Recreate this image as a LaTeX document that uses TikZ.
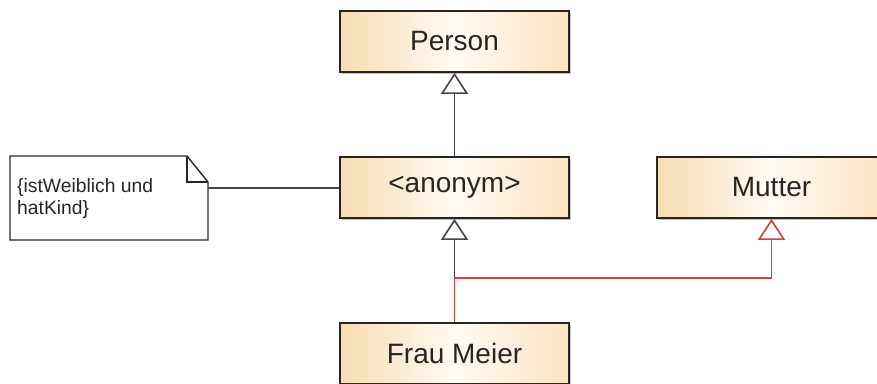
\documentclass[tikz,border=0pt]{standalone}
\usepackage{fontspec}
\setmainfont{Liberation Sans}
\usetikzlibrary{arrows.meta,shadows}
\definecolor{boxleft}{HTML}{F6DDB2}
\definecolor{boxmid}{HTML}{FFFAF3}
\definecolor{boxright}{HTML}{FBE4C2}
\definecolor{inkgray}{HTML}{262626}
\definecolor{linegray}{HTML}{444444}
\definecolor{relred}{HTML}{E03A3A}
\tikzset{
  classbox/.style={draw=inkgray, line width=1.8pt, minimum width=229pt, minimum height=61pt,
    inner sep=0pt, left color=boxleft, right color=boxright, middle color=boxmid,
    text=inkgray, font=\fontsize{28}{32}\selectfont,
    drop shadow={shadow xshift=1.5pt, shadow yshift=-1.5pt, fill=black, opacity=0.25}},
  notebox/.style={draw=inkgray, line width=1.4pt, fill=white},
  notetext/.style={text=inkgray, font=\fontsize{19.3}{22}\selectfont, align=left, anchor=west, inner sep=0pt},
  genline/.style={draw=linegray, line width=1.6pt},
  genred/.style={draw=relred, line width=1.6pt},
  gentip/.style={-{Triangle[open, length=21pt, width=27pt, fill=white]}},
}
\begin{document}
\begin{tikzpicture}[x=1pt, y=-1pt]
  \useasboundingbox (0,0) rectangle (877,383);
  \clip (0,0) rectangle (877,383);

  % classes
  \node[classbox] (person) at (454.5, 41.5) {Person};
  \node[classbox] (anon)   at (454.5, 187.5) {<anonym>};
  \node[classbox] (mutter) at (771.5, 187.5) {Mutter};
  \node[classbox] (frau)   at (454.5, 353.5) {Frau Meier};

  % constraint note with folded corner
  \draw[notebox] (10,156) -- (187,156) -- (208,182) -- (208,240) -- (10,240) -- cycle;
  \draw[notebox, fill=none] (187,156) -- (187,182) -- (208,182);
  \coordinate (noteport) at (208,188);
  \node[notetext] (notetxt) at (17,199) {\{istWeiblich und\\hatKind\}};

  % note attached to the anonymous class
  \draw[genline] (noteport) -- (anon.west |- noteport);

  % generalisations
  \coordinate (split) at (454.5,278);
  \draw[genline, gentip] (anon.north) -- (person.south);
  \draw[genline, gentip] (split) -- (anon.south);
  \draw[genred, gentip] (frau.north) -- (split) -| (mutter.south);
\end{tikzpicture}
\end{document}
